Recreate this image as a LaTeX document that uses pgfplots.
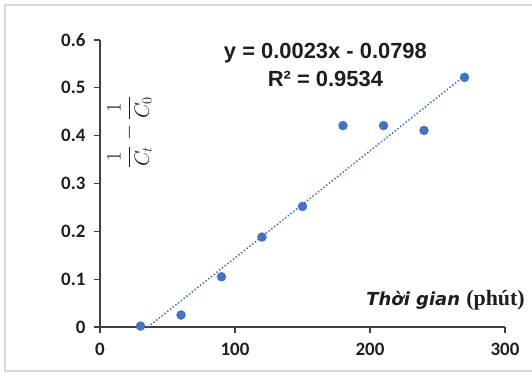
\documentclass[border=0pt]{standalone}
\usepackage{fontspec}
\setmainfont{Carlito}
\newfontfamily\eqfont{Liberation Sans}
\newfontfamily\djv{DejaVu Sans}
\newfontfamily\tms{Liberation Serif}
\usepackage{pgfplots}
\pgfplotsset{compat=1.18}
\definecolor{xlblue}{RGB}{68,114,196}
\definecolor{axgray}{RGB}{64,64,64}
\definecolor{txt}{RGB}{30,30,30}
\begin{document}
\begin{tikzpicture}
\begin{axis}[
  at={(0,0)}, anchor=south west,
  scale only axis, width=405bp, height=287bp,
  xmin=0, xmax=300, ymin=0, ymax=0.6,
  axis lines*=left,
  axis line style={axgray, line width=1.2bp},
  tick style={axgray, line width=1.2bp},
  tick align=outside, major tick length=6bp,
  xtick={0,100,200,300}, xticklabels={0,100,200,300},
  ytick={0,0.1,0.2,0.3,0.4,0.5,0.6},
  yticklabels={0,0.1,0.2,0.3,0.4,0.5,0.6},
  tick label style={font=\fontsize{19}{22}\selectfont\bfseries, text=txt},
  xticklabel style={yshift=-7bp},
  yticklabel style={xshift=-5bp},
  clip=false,
]
\addplot[xlblue, line width=1.5bp, dash pattern=on 1.5bp off 2bp] coordinates {(35.5,0) (270,0.525)};
\addplot[only marks, mark=*, mark size=4.5bp, mark options={fill=xlblue, draw=xlblue}] coordinates {
(30,0.002) (60,0.025) (90,0.105) (120,0.188) (150,0.252) (180,0.421) (210,0.421) (240,0.411) (270,0.522)};
\node[font=\eqfont\fontsize{22}{26}\selectfont\bfseries, text=txt] at (axis cs:167,0.573) {y = 0.0023x - 0.0798};
\node[font=\eqfont\fontsize{22}{26}\selectfont\bfseries, text=txt] at (axis cs:167,0.518) {R² = 0.9534};
\node[rotate=90, font=\fontsize{20}{24}\selectfont, text=txt] at (axis cs:22,0.408) {$\displaystyle\frac{1}{C_t}-\frac{1}{C_0}$};
\node[anchor=center, inner sep=0pt, text=txt] at (axis cs:256,0.056) {\djv\fontsize{18}{22}\selectfont\bfseries\itshape Thời gian\ \tms\fontsize{22}{26}\selectfont\bfseries\upshape (phút)};
\end{axis}
\draw[gray!30, line width=1.5bp] (440bp,322bp) -- (-95bp,322bp) -- (-95bp,-44bp) -- (440bp,-44bp);
\pgfresetboundingbox
\useasboundingbox (-100bp,-47bp) rectangle (432bp,327bp);
\end{tikzpicture}
\end{document}
